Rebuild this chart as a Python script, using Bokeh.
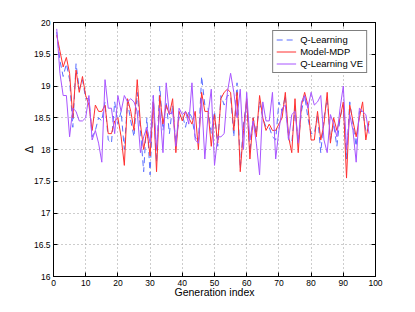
from bokeh.plotting import figure
from bokeh.embed import file_html
from bokeh.resources import INLINE
from bokeh.models import LinearAxis, FixedTicker, CustomJSTickFormatter, Legend, LegendItem, Range1d

gen = list(range(1, 99))

q_learning = [19.85, 19.4, 19.15, 19.35, 19.1, 18.35, 19.35, 18.95, 19.1, 18.8,
              18.8, 18.2, 18.3, 18.5, 18.45, 18.75, 18.15, 18.1, 18.75, 18.4,
              18.6, 18.0, 18.75, 18.45, 18.2, 18.9, 18.3, 17.65, 18.5, 17.6,
              18.85, 17.8, 19.0, 18.3, 18.75, 18.25, 18.7, 18.1, 18.5, 18.55,
              18.35, 18.6, 18.5, 18.2, 18.1, 19.15, 18.7, 18.65, 18.25, 18.6,
              18.05, 18.85, 18.7, 18.85, 18.85, 18.2, 19.05, 17.7, 18.4, 18.75,
              17.95, 18.5, 18.25, 18.75, 18.5, 18.35, 18.35, 18.2, 18.15, 18.75,
              18.6, 18.85, 18.15, 18.1, 18.65, 18.1, 18.6, 18.85, 18.5, 18.25,
              18.25, 18.55, 17.95, 18.5, 18.8, 18.15, 18.4, 18.05, 18.5, 18.7,
              17.85, 18.75, 18.4, 18.05, 18.6, 18.6, 18.3, 18.4]

model_mdp = [19.8, 19.55, 19.3, 19.45, 19.2, 18.5, 19.25, 18.9, 19.15, 18.85,
             18.7, 18.3, 18.7, 18.6, 18.6, 18.7, 18.25, 18.25, 18.45, 18.5,
             18.2, 17.75, 18.8, 18.6, 18.3, 19.1, 18.4, 18.0, 18.3, 17.9,
             18.75, 17.65, 18.85, 18.4, 18.7, 18.55, 18.8, 17.95, 18.6, 18.45,
             18.6, 18.5, 18.4, 18.6, 18.0, 18.9, 18.6, 18.6, 18.05, 18.55,
             18.1, 18.8, 18.9, 18.95, 18.9, 18.3, 18.9, 17.65, 18.3, 18.8,
             17.85, 18.5, 18.2, 18.85, 18.5, 18.3, 18.4, 18.3, 18.3, 18.4,
             18.5, 18.9, 18.2, 17.95, 18.8, 17.95, 18.7, 18.9, 18.7, 18.15,
             18.15, 18.6, 18.15, 18.4, 18.9, 18.1, 18.5, 18.3, 18.5, 18.75,
             17.55, 18.7, 18.45, 18.2, 18.5, 18.75, 18.15, 18.45]

q_learning_ve = [19.9, 19.2, 18.85, 18.85, 18.2, 18.65, 18.6, 18.45, 18.45, 18.5,
                 18.85, 18.15, 18.3, 18.1, 17.8, 19.1, 18.65, 18.65, 18.25, 18.85,
                 18.6, 18.85, 18.75, 18.8, 18.75, 18.6, 17.95, 18.2, 18.35, 18.1,
                 18.85, 18.0, 18.65, 17.95, 19.05, 18.55, 18.6, 18.05, 18.65, 18.55,
                 18.6, 18.4, 19.05, 18.15, 18.1, 18.8, 17.85, 18.55, 18.95, 17.75,
                 18.2, 18.2, 18.25, 18.9, 19.2, 18.9, 18.5, 18.95, 18.0, 18.9,
                 18.15, 18.45, 18.1, 17.6, 18.75, 18.45, 18.45, 18.9, 17.85, 18.3,
                 18.65, 18.7, 18.15, 18.55, 18.6, 18.1, 18.75, 18.85, 18.65, 18.9,
                 18.7, 18.75, 18.85, 18.15, 17.95, 18.55, 18.4, 18.2, 18.65, 19.0,
                 18.0, 18.55, 18.3, 17.8, 18.65, 18.6, 18.55, 18.25]

x_ticks = [0, 10, 20, 30, 40, 50, 60, 70, 80, 90, 100]
y_ticks = [16, 16.5, 17, 17.5, 18, 18.5, 19, 19.5, 20]

FONT = "Liberation Sans"

p = figure(width=408, height=304, output_backend="svg", toolbar_location=None,
           x_range=Range1d(0, 100), y_range=Range1d(16, 20),
           min_border_left=53, min_border_right=33, min_border_top=22, min_border_bottom=28)

p.outline_line_color = "black"
p.outline_line_width = 1
p.background_fill_color = "white"
p.border_fill_color = "white"

for ax in (p.xaxis[0], p.yaxis[0]):
    ax.major_tick_in = 4
    ax.major_tick_out = 0
    ax.minor_tick_in = 0
    ax.minor_tick_out = 0
    ax.axis_line_color = "black"
    ax.major_tick_line_color = "black"
    ax.major_label_text_font = FONT
    ax.major_label_text_font_size = "8.5px"
    ax.major_label_text_color = "black"
    ax.axis_label_text_font = FONT
    ax.axis_label_text_font_size = "10.5px"
    ax.axis_label_text_font_style = "normal"
    ax.axis_label_text_color = "black"

p.xaxis.ticker = FixedTicker(ticks=x_ticks)
p.yaxis.ticker = FixedTicker(ticks=y_ticks)
fmt = CustomJSTickFormatter(code="return String(tick);")
p.xaxis.formatter = fmt
p.yaxis.formatter = fmt
p.xaxis.major_label_standoff = 3
p.yaxis.major_label_standoff = 3
p.xaxis.axis_label = "Generation index"
p.yaxis.axis_label = "Δ"
p.xaxis.axis_label_standoff = -3
p.yaxis.axis_label_standoff = -4

top = LinearAxis(ticker=FixedTicker(ticks=x_ticks), major_label_text_color=None,
                 major_tick_in=4, major_tick_out=0, minor_tick_in=0, minor_tick_out=0,
                 axis_line_color="black", major_label_text_font_size="1px", major_label_standoff=0)
right = LinearAxis(ticker=FixedTicker(ticks=y_ticks), major_label_text_color=None,
                   major_tick_in=4, major_tick_out=0, minor_tick_in=0, minor_tick_out=0,
                   axis_line_color="black", major_label_text_font_size="1px", major_label_standoff=0)
p.add_layout(top, "above")
p.add_layout(right, "right")

p.xgrid.grid_line_color = "#9a9a9a"
p.ygrid.grid_line_color = "#9a9a9a"
p.xgrid.grid_line_dash = "1 3"
p.ygrid.grid_line_dash = "1 3"
p.xgrid.grid_line_width = 1
p.ygrid.grid_line_width = 1

r1 = p.line(gen, q_learning, line_color="#5a6eff", line_width=1.0, line_dash="6 4")
r2 = p.line(gen, model_mdp, line_color="#ff3030", line_width=1.0)
r3 = p.line(gen, q_learning_ve, line_color="#a855ff", line_width=1.0)

legend = Legend(items=[LegendItem(label="Q-Learning", renderers=[r1]),
                       LegendItem(label="Model-MDP", renderers=[r2]),
                       LegendItem(label="Q-Learning VE", renderers=[r3])],
                location="top_right")
legend.label_text_font = FONT
legend.label_text_font_size = "9.5px"
legend.label_text_color = "black"
legend.label_height = 11
legend.glyph_height = 11
legend.glyph_width = 20
legend.label_standoff = 4
legend.spacing = 1
legend.padding = 3
legend.margin = 8
legend.border_line_color = "black"
legend.border_line_width = 1.5
legend.background_fill_color = "white"
legend.background_fill_alpha = 1
p.add_layout(legend)

open("out.html", "w").write(file_html(p, INLINE))
